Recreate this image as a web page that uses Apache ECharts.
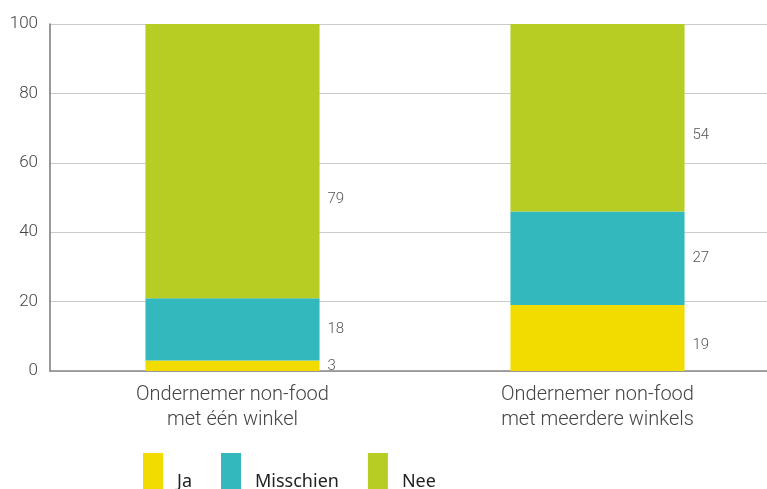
<!DOCTYPE html>
<html>
<head>
<meta charset="utf-8">
<style>
  html, body { margin: 0; padding: 0; background: #fff; }
  #chart { width: 767px; height: 489px; }
</style>
<script src="https://cdn.jsdelivr.net/npm/echarts@6/dist/echarts.min.js"></script>
</head>
<body>
<div id="chart"></div>
<script>
// categorieen en waarden (procenten)
const categories = ['Ondernemer non-food\nmet één winkel', 'Ondernemer non-food\nmet meerdere winkels']
const ja = [3, 19]
const misschien = [18, 27]
const nee = [79, 54]
const yTicks = [0, 20, 40, 60, 80, 100]

const colors = ['#f2dc00', '#33b8bd', '#b8cd24']
const axisFont = 'Roboto'

function labelCfg(extra) {
  return Object.assign({
    show: true,
    position: 'right',
    distance: 8,
    color: '#555',
    fontSize: 15,
    fontFamily: axisFont,
    fontWeight: 300,
  }, extra || {})
}

function makeSeries(name, values, color) {
  return {
    name: name,
    type: 'bar',
    stack: 'totaal',
    barWidth: '47.7%',
    itemStyle: { color: color },
    label: labelCfg(),
    data: values.map(v => ({ value: v })),
  }
}

const series = [
  makeSeries('Ja', ja, colors[0]),
  makeSeries('Misschien', misschien, colors[1]),
  makeSeries('Nee', nee, colors[2]),
]
// labels staan in het origineel niet precies in het midden
series[2].data[0].label = labelCfg({ offset: [0, 38] })
series[2].data[1].label = labelCfg({ offset: [0, 18] })
series[0].data[1].label = labelCfg({ offset: [0, 7] })

const option = {
  animation: false,
  grid: { left: 50, width: 730, top: 24, bottom: 118, outerBoundsMode: 'none', containLabel: false },
  legend: {
    left: 143,
    top: 453,
    padding: 0,
    itemWidth: 20,
    itemHeight: 58,
    itemGap: 29,
    icon: 'rect',
    textStyle: {
      fontFamily: 'Noto Sans',
      fontSize: 18,
      color: '#222',
      padding: [0, 0, 0, 9],
    },
    data: ['Ja', 'Misschien', 'Nee'],
  },
  xAxis: {
    type: 'category',
    data: categories,
    axisLine: { lineStyle: { color: '#888', width: 1.5 } },
    axisTick: { show: false },
    axisLabel: {
      color: '#444',
      fontSize: 20,
      fontFamily: axisFont,
      fontWeight: 300,
      lineHeight: 25,
      margin: 11,
    },
  },
  yAxis: {
    type: 'value',
    min: yTicks[0],
    max: yTicks[yTicks.length - 1],
    interval: yTicks[1] - yTicks[0],
    axisLine: { show: true, lineStyle: { color: '#777', width: 1.5 } },
    axisTick: { show: false },
    splitLine: { lineStyle: { color: '#ccc', width: 1 } },
    axisLabel: {
      color: '#444',
      fontSize: 17,
      fontFamily: axisFont,
      fontWeight: 300,
      margin: 12,
    },
  },
  series: series,
}

const myChart = echarts.init(document.getElementById('chart'))
myChart.setOption(option)
window.onresize = myChart.resize
</script>
</body>
</html>
